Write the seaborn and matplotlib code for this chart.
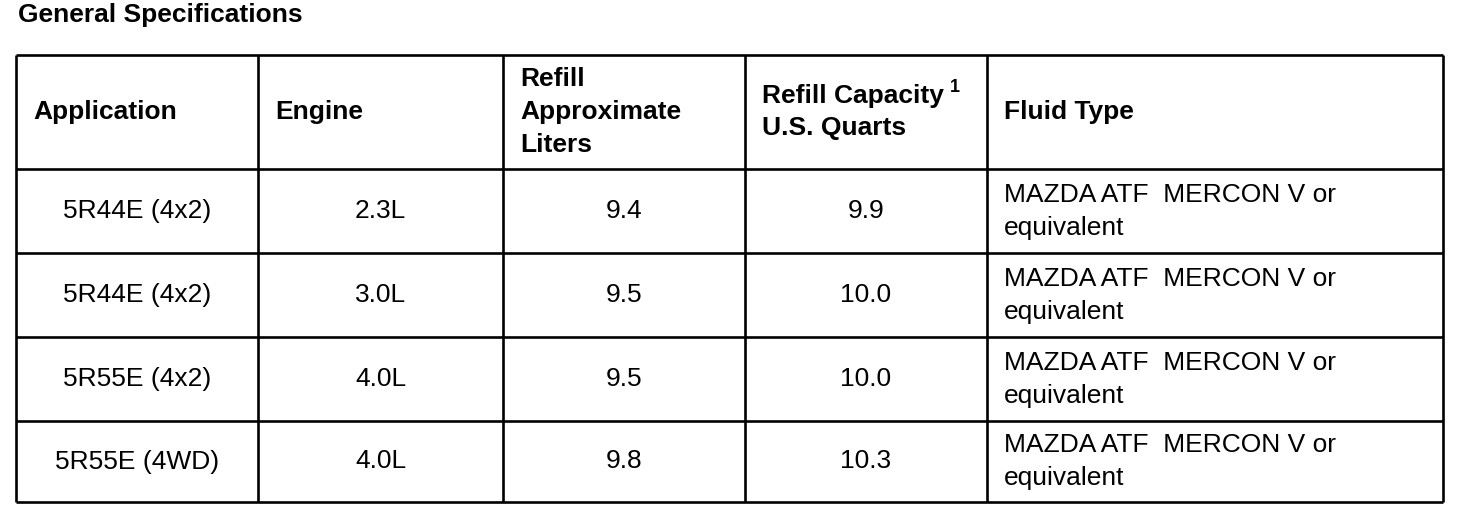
import matplotlib
matplotlib.use("Agg")
import matplotlib.pyplot as plt
import seaborn as sns

# ---- data ----
title = "General Specifications"
headers = ["Application", "Engine", "Refill\nApproximate\nLiters", "Refill Capacity\nU.S. Quarts", "Fluid Type"]
applications = ["5R44E (4x2)", "5R44E (4x2)", "5R55E (4x2)", "5R55E (4WD)"]
engines = ["2.3L", "3.0L", "4.0L", "4.0L"]
liters = [9.4, 9.5, 9.5, 9.8]
quarts = [9.9, 10.0, 10.0, 10.3]
fluids = ["MAZDA ATF  MERCON V or\nequivalent"] * 4

sns.set_theme(style="white")
plt.rcParams['font.family'] = ['Liberation Sans', 'DejaVu Sans']
plt.rcParams['text.color'] = 'black'

W, H = 1472, 518
fig = plt.figure(figsize=(W / 100, H / 100), dpi=100)
ax = fig.add_axes([0, 0, 1, 1])
ax.set_xlim(0, W)
ax.set_ylim(H, 0)
ax.axis("off")

col_x = [16, 258, 503, 745, 987, 1443]
row_y = [55, 169, 253, 337, 421, 502]
lw = 1.9
ax.hlines(row_y, col_x[0], col_x[-1], color="black", lw=lw)
ax.vlines(col_x, row_y[0], row_y[-1], color="black", lw=lw)

fs = 19
line_gap = 33
ax.text(18, 15, title, fontsize=fs, fontweight="bold", ha="left", va="center", color="black")

pad = 17
hdr_mid = (row_y[0] + row_y[1]) / 2
fig.canvas.draw()
renderer = fig.canvas.get_renderer()
for i, h in enumerate(headers):
    lines = h.split("\n")
    n = len(lines)
    for k, ln in enumerate(lines):
        y = hdr_mid + (k - (n - 1) / 2) * line_gap
        t = ax.text(col_x[i] + pad, y, ln, fontsize=fs, fontweight="bold",
                    ha="left", va="center", color="black")
        if ln == "Refill Capacity":
            bb = t.get_window_extent(renderer).transformed(ax.transData.inverted())
            ax.text(max(bb.x0, bb.x1) + 6, min(bb.y0, bb.y1) + 4, "1", fontsize=13,
                    fontweight="bold", ha="left", va="center", color="black")

for r in range(len(applications)):
    mid = (row_y[r + 1] + row_y[r + 2]) / 2
    vals = [applications[r], engines[r], f"{liters[r]:.1f}", f"{quarts[r]:.1f}"]
    for c, v in enumerate(vals):
        ax.text((col_x[c] + col_x[c + 1]) / 2, mid, v, fontsize=fs,
                ha="center", va="center", color="black")
    flines = fluids[r].split("\n")
    n = len(flines)
    for k, ln in enumerate(flines):
        y = mid + (k - (n - 1) / 2) * line_gap
        ax.text(col_x[4] + pad, y, ln, fontsize=fs, ha="left", va="center", color="black")

fig.savefig("out.png", dpi=100, facecolor="white")
